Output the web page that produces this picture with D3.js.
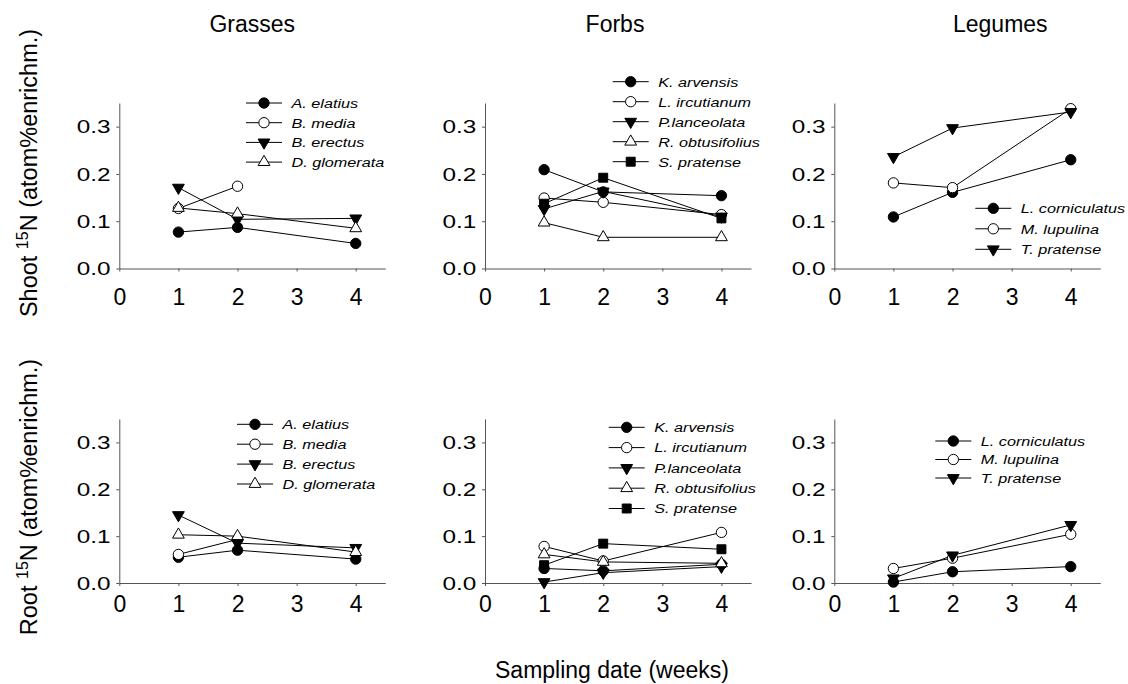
<!DOCTYPE html>
<html>
<head>
<meta charset="utf-8">
<script src="https://cdn.jsdelivr.net/npm/d3@7"></script>
<style>
  body { margin: 0; background: #fff; }
  svg { display: block; font-family: "Liberation Sans", Arial, sans-serif; }
</style>
</head>
<body>
<div id="chart"></div>
<script>
// data
const weeks = [1, 2, 4];
const xTicks = [0, 1, 2, 3, 4];
const yTicks = [0, 0.1, 0.2, 0.3];
const groups = ["Grasses", "Forbs", "Legumes"];

const grassSpecies = ["A. elatius", "B. media", "B. erectus", "D. glomerata"];
const forbSpecies = ["K. arvensis", "L. ircutianum", "P.lanceolata", "R. obtusifolius", "S. pratense"];
const legumeSpecies = ["L. corniculatus", "M. lupulina", "T. pratense"];

const grassMarkers = ["circleFilled", "circleOpen", "triDown", "triUpOpen"];
const forbMarkers = ["circleFilled", "circleOpen", "triDown", "triUpOpen", "square"];
const legumeMarkers = ["circleFilled", "circleOpen", "triDown"];

const grassShoot = [
  [0.077, 0.087, 0.053],
  [0.127, 0.174, null],
  [0.171, 0.104, 0.106],
  [0.128, 0.116, 0.085]
];
const forbShoot = [
  [0.209, 0.162, 0.154],
  [0.149, 0.140, 0.114],
  [0.126, 0.163, 0.110],
  [0.097, 0.066, 0.066],
  [0.137, 0.192, 0.106]
];
const legumeShoot = [
  [0.109, 0.161, 0.230],
  [0.181, 0.171, 0.338],
  [0.236, 0.297, 0.331]
];

const grassRoot = [
  [0.055, 0.070, 0.051],
  [0.061, 0.093, null],
  [0.145, 0.085, 0.075],
  [0.103, 0.100, 0.066]
];
const forbRoot = [
  [0.031, 0.026, 0.040],
  [0.078, 0.047, 0.108],
  [0.002, 0.022, 0.035],
  [0.061, 0.045, 0.042],
  [0.038, 0.084, 0.072]
];
const legumeRoot = [
  [0.002, 0.024, 0.035],
  [0.031, 0.053, 0.104],
  [0.010, 0.059, 0.124]
];

const width = 1128, height = 684;

const svg = d3.select("#chart")
  .append("svg")
  .attr("width", width)
  .attr("height", height)
  .attr("viewBox", [0, 0, width, height]);

// layout
const colLeft = [119.3, 485, 834.3];
const plotW = 266;
const rows = [
  { zero: 268.5, top: 103, tickDy: 36, label: "Shoot", labelY: 173 },
  { zero: 583, top: 419, tickDy: 29, label: "Root", labelY: 497 }
];

const panels = [
  { col: 0, row: 0, names: grassSpecies, marks: grassMarkers, vals: grassShoot, lg: [144.7, 0, 19.7] },
  { col: 1, row: 0, names: forbSpecies, marks: forbMarkers, vals: forbShoot, lg: [145.7, -21.3, 20] },
  { col: 2, row: 0, names: legumeSpecies, marks: legumeMarkers, vals: legumeShoot, lg: [159, 105.3, 20.5] },
  { col: 0, row: 1, names: grassSpecies, marks: grassMarkers, vals: grassRoot, lg: [135.7, 5.3, 19.9] },
  { col: 1, row: 1, names: forbSpecies, marks: forbMarkers, vals: forbRoot, lg: [141.7, 8.3, 20.3] },
  { col: 2, row: 1, names: legumeSpecies, marks: legumeMarkers, vals: legumeRoot, lg: [119, 22, 18.5] }
];

const axisColor = "#555";

function markerPath(type) {
  if (type.startsWith("circle")) return d3.symbol(d3.symbolCircle, 84)();
  if (type === "square") return d3.symbol(d3.symbolSquare, 80)();
  return d3.symbol(d3.symbolTriangle, 60)();
}

function drawMarker(g, type, x, y) {
  const open = type === "circleOpen" || type === "triUpOpen";
  const rot = type === "triDown" ? " rotate(180)" : "";
  g.append("path")
    .attr("d", markerPath(type))
    .attr("transform", `translate(${x},${y})${rot}`)
    .attr("fill", open ? "#fff" : "#000")
    .attr("stroke", "#000")
    .attr("stroke-width", 1);
}

panels.forEach(p => {
  const row = rows[p.row];
  const left = colLeft[p.col];

  const x = d3.scaleLinear().domain([0, 4.5]).range([left, left + plotW]);
  const y = d3.scaleLinear().domain([0, 0.35]).range([row.zero, row.top]);

  const g = svg.append("g");

  // axes
  const xAxis = g.append("g")
    .attr("transform", `translate(0,${row.zero})`)
    .call(d3.axisBottom(x).tickValues(xTicks).tickFormat(d3.format("d")).tickSize(3).tickSizeOuter(0));
  xAxis.selectAll("text")
    .attr("dy", null)
    .attr("y", row.tickDy)
    .style("font-size", "23px")
    .attr("fill", "#000");

  const yAxis = g.append("g")
    .attr("transform", `translate(${left},0)`)
    .call(d3.axisLeft(y).tickValues(yTicks).tickFormat(d3.format(".1f")).tickSize(3).tickSizeOuter(0));
  yAxis.selectAll("text")
    .attr("x", -6.8)
    .attr("transform", "scale(1.28,1)")
    .style("font-size", "19px")
    .attr("fill", "#000");

  g.selectAll(".domain, .tick line").attr("stroke", axisColor);

  // series
  const line = d3.line()
    .defined(d => d.v != null)
    .x(d => x(d.w))
    .y(d => y(d.v));

  p.vals.forEach(vals => {
    const pts = weeks.map((w, j) => ({ w: w, v: vals[j] }));
    g.append("path")
      .datum(pts)
      .attr("fill", "none")
      .attr("stroke", "#000")
      .attr("stroke-width", 1)
      .attr("d", line);
  });
  // markers on top of every line
  p.vals.forEach((vals, i) => {
    weeks.forEach((w, j) => {
      if (vals[j] != null) drawMarker(g, p.marks[i], x(w), y(vals[j]));
    });
  });

  // legend
  const lx = left + p.lg[0];
  p.names.forEach((name, i) => {
    const ly = row.top + p.lg[1] + i * p.lg[2];
    g.append("line")
      .attr("x1", lx - 18).attr("x2", lx + 18)
      .attr("y1", ly).attr("y2", ly)
      .attr("stroke", "#000");
    drawMarker(g, p.marks[i], lx, ly);
    g.append("text")
      .attr("transform", `translate(${lx + 27.5},${ly}) scale(1.2,1)`)
      .attr("dy", "0.36em")
      .style("font-size", "13.5px")
      .style("font-style", "italic")
      .text(name);
  });
});

// group titles
const titleDx = [0, -3, 33];
groups.forEach((t, i) => {
  svg.append("text")
    .attr("x", colLeft[i] + plotW / 2 + titleDx[i])
    .attr("y", 32)
    .attr("text-anchor", "middle")
    .style("font-size", "23px")
    .text(t);
});

// y labels
rows.forEach(r => {
  const t = svg.append("text")
    .attr("transform", `translate(37,${r.labelY}) rotate(-90)`)
    .attr("text-anchor", "middle")
    .style("font-size", "23.5px");
  t.append("tspan").text(r.label + " ");
  t.append("tspan").attr("dy", -9).style("font-size", "16px").text("15");
  t.append("tspan").attr("dy", 9).text("N (atom%enrichm.)");
});

// x label
svg.append("text")
  .attr("x", 612)
  .attr("y", 678)
  .attr("text-anchor", "middle")
  .style("font-size", "23px")
  .text("Sampling date (weeks)");
</script>
</body>
</html>
